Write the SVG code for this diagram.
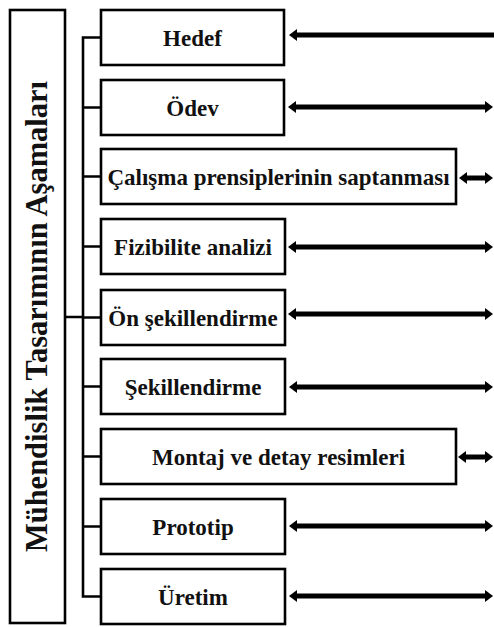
<svg xmlns="http://www.w3.org/2000/svg" width="494" height="627" viewBox="0 0 494 627">
<style>
.box{fill:#fff;stroke:#000;stroke-width:2.6}
.lbl{font-family:"Liberation Serif","Times New Roman",serif;font-weight:bold;font-size:23px;fill:#111;text-anchor:middle}
.title{font-family:"Liberation Serif","Times New Roman",serif;font-weight:bold;font-size:30.5px;fill:#111;text-anchor:middle}
.con{fill:none;stroke:#000;stroke-width:2.6}
.arr{fill:none;stroke:#000;stroke-width:5}
</style>
<defs>
<marker id="ah" markerUnits="userSpaceOnUse" markerWidth="8" markerHeight="12" viewBox="0 0 8 12" refX="2" refY="6" orient="auto-start-reverse">
<path d="M0,0 L8,6 L0,12 Z" fill="#000"/>
</marker>
</defs>
<rect width="494" height="627" fill="#fff"/>
<g id="title">
<rect class="box" x="10" y="10" width="55" height="613"/>
<text class="title" transform="translate(47,316.5) rotate(-90)">Mühendislik Tasarımının Aşamaları</text>
</g>
<g id="connectors">
<path class="con" d="M65,317 H83 M100,37.5 H83 V596.5 H100 M83,107.5 H100 M83,176.5 H100 M83,246.5 H100 M83,317.5 H100 M83,386.5 H100 M83,456.5 H100 M83,526.5 H100"/>
<path class="arr" d="M295,35 H494" marker-start="url(#ah)"/>
<path class="arr" d="M294,107 H487" marker-start="url(#ah)" marker-end="url(#ah)"/>
<path class="arr" d="M465,178 H487" marker-start="url(#ah)" marker-end="url(#ah)"/>
<path class="arr" d="M294,247 H487" marker-start="url(#ah)" marker-end="url(#ah)"/>
<path class="arr" d="M294,314 H487" marker-start="url(#ah)" marker-end="url(#ah)"/>
<path class="arr" d="M295,387 H487" marker-start="url(#ah)" marker-end="url(#ah)"/>
<path class="arr" d="M464,457 H487" marker-start="url(#ah)" marker-end="url(#ah)"/>
<path class="arr" d="M295,526 H487" marker-start="url(#ah)" marker-end="url(#ah)"/>
<path class="arr" d="M295,596 H487" marker-start="url(#ah)" marker-end="url(#ah)"/>
</g>
<g id="hedef"><rect class="box" x="101" y="10" width="183" height="55"/><text class="lbl" x="192.5" y="45.5">Hedef</text></g>
<g id="odev"><rect class="box" x="101" y="80" width="183" height="55"/><text class="lbl" x="192.5" y="115.5">Ödev</text></g>
<g id="calisma"><rect class="box" x="101" y="149" width="355" height="55"/><text class="lbl" x="278.5" y="184.5">Çalışma prensiplerinin saptanması</text></g>
<g id="fizibilite"><rect class="box" x="101" y="219" width="184" height="55"/><text class="lbl" x="193" y="254.5">Fizibilite analizi</text></g>
<g id="on-sekillendirme"><rect class="box" x="101" y="290" width="184" height="55"/><text class="lbl" x="193" y="325.5">Ön şekillendirme</text></g>
<g id="sekillendirme"><rect class="box" x="101" y="359" width="184" height="55"/><text class="lbl" x="193" y="394.5">Şekillendirme</text></g>
<g id="montaj"><rect class="box" x="101" y="429" width="355" height="55"/><text class="lbl" x="278.5" y="464.5">Montaj ve detay resimleri</text></g>
<g id="prototip"><rect class="box" x="101" y="499" width="184" height="55"/><text class="lbl" x="193" y="534.5">Prototip</text></g>
<g id="uretim"><rect class="box" x="101" y="569" width="184" height="55"/><text class="lbl" x="193" y="604.5">Üretim</text></g>
</svg>
